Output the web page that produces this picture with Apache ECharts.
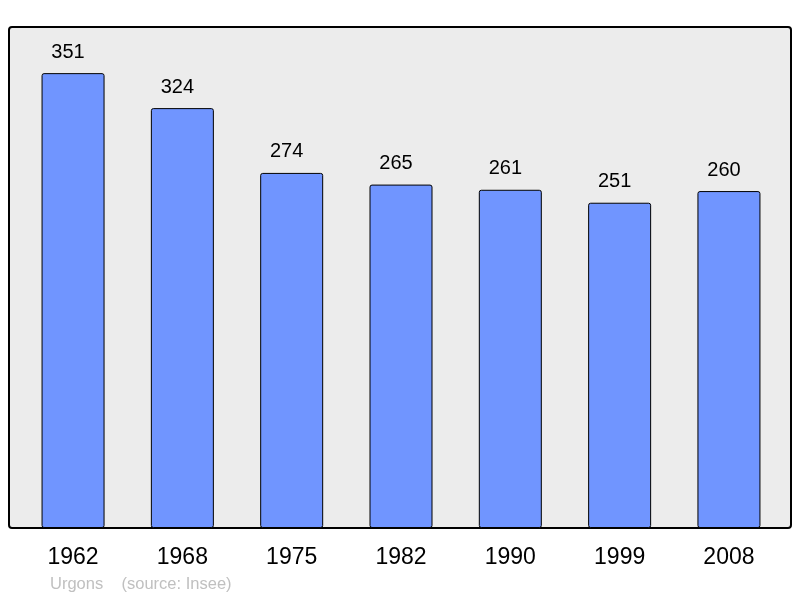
<!DOCTYPE html>
<html>
<head>
<meta charset="utf-8">
<script src="https://cdn.jsdelivr.net/npm/echarts@6/dist/echarts.min.js"></script>
<style>
  html, body { margin: 0; padding: 0; background: #fff; }
  #chart { width: 800px; height: 598px; }
</style>
</head>
<body>
<div id="chart"></div>
<script>
// population par recensement
var years = ['1962', '1968', '1975', '1982', '1990', '1999', '2008'];
var population = [351, 324, 274, 265, 261, 251, 260];
var footerText = 'Urgons    (source: Insee)';

var myChart = echarts.init(document.getElementById('chart'));

var option = {
    animation: false,
    textStyle: { fontFamily: 'Liberation Sans, Arial, sans-serif' },
    graphic: [
        {
            type: 'rect',
            z: -10,
            shape: { x: 9, y: 27, width: 782, height: 501, r: 3 },
            style: { fill: '#ececec', stroke: '#000', lineWidth: 2 }
        },
        {
            type: 'text',
            left: 50,
            top: 576,
            style: {
                text: footerText,
                fill: '#c0c0c0',
                font: '16.5px "Liberation Sans", Arial, sans-serif'
            }
        }
    ],
    grid: {
        left: 18.4,
        top: 27,
        width: 765.2,
        height: 501,
        containLabel: false
    },
    xAxis: {
        type: 'category',
        data: years,
        axisLine: { show: false },
        axisTick: { show: false },
        axisLabel: {
            color: '#000',
            fontSize: 23,
            margin: 18,
            fontFamily: 'Liberation Sans, Arial, sans-serif'
        }
    },
    yAxis: {
        type: 'value',
        min: 0,
        max: 386.6,
        show: false,
        splitLine: { show: false }
    },
    series: [
        {
            type: 'bar',
            data: population,
            barWidth: 63,
            itemStyle: {
                color: '#7095ff',
                borderColor: '#000',
                borderWidth: 1,
                borderRadius: 2
            },
            label: {
                show: true,
                position: 'top',
                distance: 11,
                offset: [-5, 0],
                color: '#000',
                fontSize: 20,
                fontFamily: 'Liberation Sans, Arial, sans-serif'
            }
        }
    ]
};

myChart.setOption(option);
</script>
</body>
</html>
